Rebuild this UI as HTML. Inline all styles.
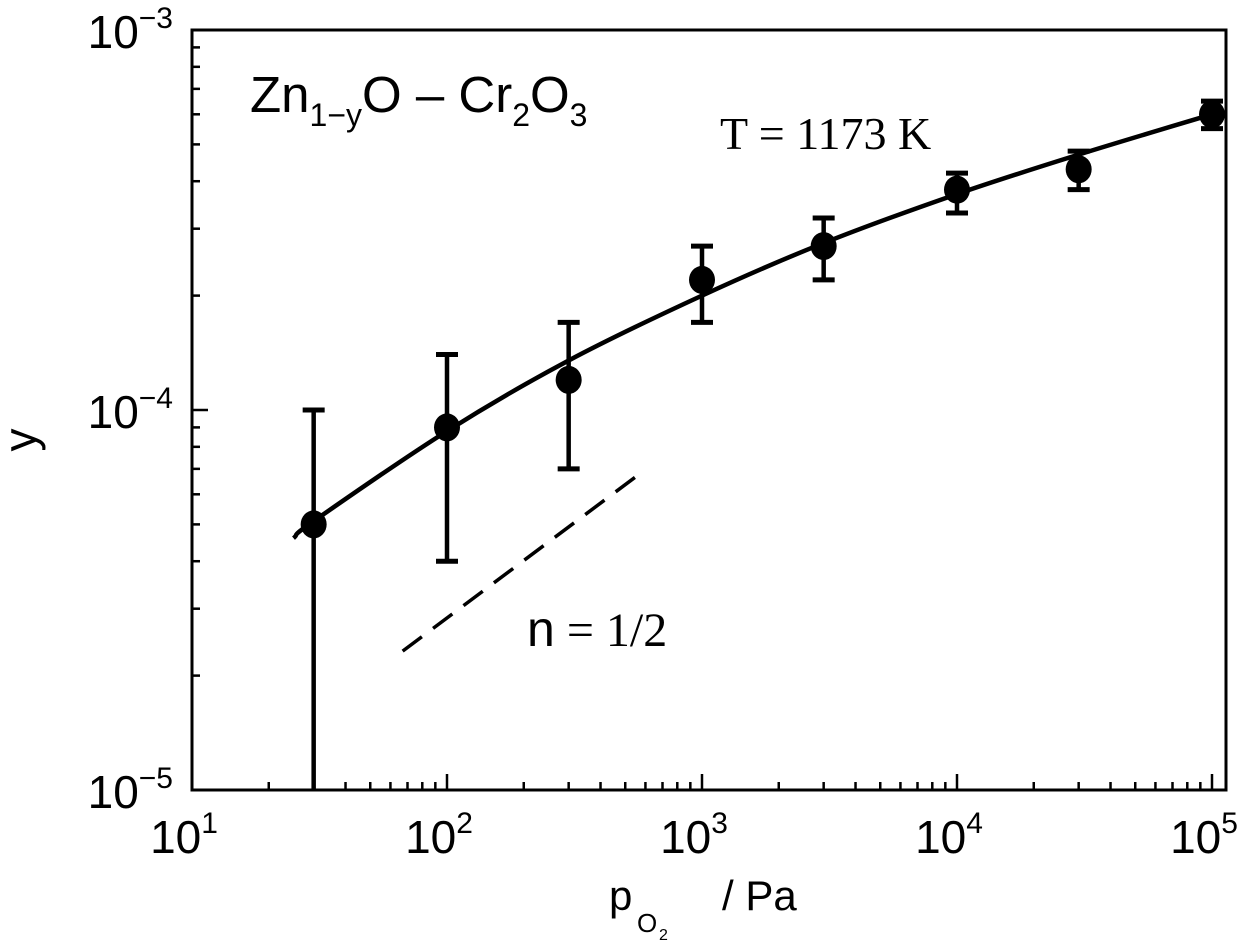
<!DOCTYPE html>
<html><head><meta charset="utf-8"><style>
body{margin:0;background:#fff}
svg{display:block}
text{font-family:"Liberation Sans",Arial,sans-serif;fill:#000}
.serif{font-family:"Liberation Serif",serif}
</style></head><body>
<svg id="chart" width="1250" height="943" viewBox="0 0 1250 943" xmlns="http://www.w3.org/2000/svg">
<g id="axes"></g>
<g id="marks"></g>
<text x="250" y="112" font-size="51">Zn<tspan font-size="32" dy="14">1−y</tspan><tspan dy="-14">O – Cr</tspan><tspan font-size="32" dy="14">2</tspan><tspan dy="-14">O</tspan><tspan font-size="32" dy="14">3</tspan></text>
<text class="serif" x="720" y="149" font-size="46">T = 1173 K</text>
<text x="527" y="646" font-size="50">n<tspan font-family="Liberation Serif" font-size="48"> = 1/2</tspan></text>
<text x="0" y="0" font-size="46" transform="translate(36,440) rotate(-90)" text-anchor="middle">y</text>
<g>
<text x="609" y="910" font-size="42">p</text>
<text x="637" y="932" font-size="26">O</text>
<text x="659" y="940" font-size="16">2</text>
<text x="722" y="910" font-size="42">/ Pa</text>
</g>
</svg>
<script>
const xCats=[30,100,300,1000,3000,10000,30000,100000];
const yVals=[5e-5,9e-5,1.2e-4,2.2e-4,2.7e-4,3.8e-4,4.3e-4,6e-4];
const yLow=[1e-5,4e-5,7e-5,1.7e-4,2.2e-4,3.3e-4,3.8e-4,5.5e-4];
const yHigh=[1e-4,1.4e-4,1.7e-4,2.7e-4,3.2e-4,4.2e-4,4.8e-4,6.5e-4];
const fitX=[25,30,100,300,1000,3000,10000,30000,100000];
const fitY=[4.6e-5,5.1e-5,8.8e-5,1.35e-4,2.0e-4,2.75e-4,3.7e-4,4.7e-4,6e-4];
const slopeX=[67,571];
const slopeY=[2.32e-5,6.8e-5];
const xTickExp=[1,2,3,4,5];
const yTickExp=[-5,-4,-3];

const L=192,R=1226,T=30,B=790,DX=255,DY=380;
const sx=v=>L+(Math.log10(v)-1)*DX;
const sy=v=>B-(Math.log10(v)+5)*DY;
const NS='http://www.w3.org/2000/svg';
function mk(tag,parent,attrs){const e=document.createElementNS(NS,tag);for(const k in attrs)e.setAttribute(k,attrs[k]);parent.appendChild(e);return e;}
const ax=document.getElementById('axes'),mg=document.getElementById('marks');
let fr=mk('rect',ax,{x:L,y:T,width:R-L,height:B-T,fill:'none',stroke:'#000','stroke-width':3});


for(let d=1;d<=5;d++){for(let m=1;m<10;m++){const v=m*Math.pow(10,d);if(v>1.05e5)break;const x=sx(v);const len=m===1?16:8;
 let t=mk('line',ax,{x1:x,y1:B,x2:x,y2:B-len,stroke:'#000','stroke-width':2.5});
 
 }}
xTickExp.forEach(e=>{const x=sx(Math.pow(10,e));
 let t=mk('text',ax,{x:x-8,y:853,'font-size':46,'text-anchor':'middle'});t.textContent='10';
 
 
 let s=mk('tspan',t,{'font-size':30,dy:-20});s.textContent=e;});
for(let d=-5;d<=-3;d++){for(let m=1;m<10;m++){const v=m*Math.pow(10,d);if(v>1.01e-3)break;const y=sy(v);const len=m===1?16:8;
 let t=mk('line',ax,{x1:L,y1:y,x2:L+len,y2:y,stroke:'#000','stroke-width':2.5});
 
 }}
yTickExp.forEach(e=>{const y=sy(Math.pow(10,e));
 let t=mk('text',ax,{x:173,y:y+18,'font-size':46,'text-anchor':'end'});t.textContent='10';
 
 
 let s=mk('tspan',t,{'font-size':30,dy:-20});s.textContent='−'+Math.abs(e);});
const P=fitX.map((x,i)=>[sx(x),sy(fitY[i])]);
let d='M'+P[0][0]+','+P[0][1];
for(let i=0;i<P.length-1;i++){const p0=i===0?[2*P[0][0]-P[1][0],2*P[0][1]-P[1][1]]:P[i-1],p1=P[i],p2=P[i+1],p3=P[Math.min(P.length-1,i+2)];
 d+=` C${p1[0]+(p2[0]-p0[0])/6},${p1[1]+(p2[1]-p0[1])/6} ${p2[0]-(p3[0]-p1[0])/6},${p2[1]-(p3[1]-p1[1])/6} ${p2[0]},${p2[1]}`;}
let fit=mk('path',mg,{d:d,fill:'none',stroke:'#000','stroke-width':4.5});


let sl=mk('line',mg,{x1:sx(slopeX[0]),y1:sy(slopeY[0]),x2:sx(slopeX[1]),y2:sy(slopeY[1]),stroke:'#000','stroke-width':3.5,'stroke-dasharray':'24,14'});


xCats.forEach((xv,i)=>{const x=sx(xv),yl=sy(yLow[i]),yh=sy(yHigh[i]);
 let e=mk('line',mg,{x1:x,y1:yl,x2:x,y2:yh,stroke:'#000','stroke-width':4.5});
 
 
 [yh].concat(yLow[i]>1.01e-5?[yl]:[]).forEach(yy=>{let c=mk('line',mg,{x1:x-11,y1:yy,x2:x+11,y2:yy,stroke:'#000','stroke-width':5});
  
  });
 let pt=mk('ellipse',mg,{cx:x,cy:sy(yVals[i]),rx:13,ry:14,fill:'#000'});
 
 });
</script>
</body></html>
